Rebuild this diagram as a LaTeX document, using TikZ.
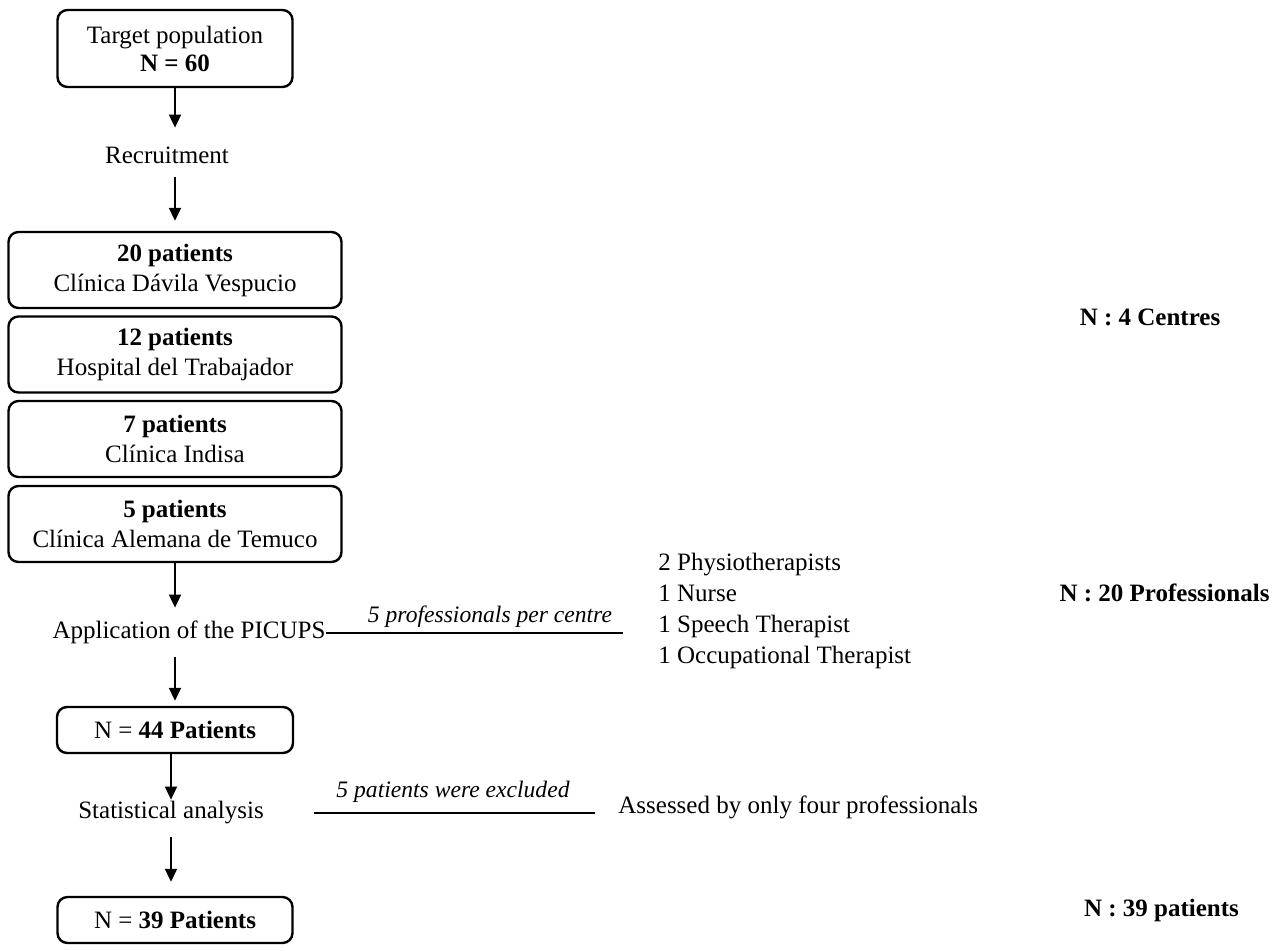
\documentclass[tikz,border=0pt]{standalone}
\usepackage{fontspec}
\setmainfont{Liberation Serif}
\usetikzlibrary{positioning,arrows.meta}
\tikzset{
  flowbox/.style={draw, line width=1.2pt, rounded corners=5pt, align=center, inner sep=0pt, font=\fontsize{12.5}{15}\selectfont},
  flowtext/.style={inner sep=0pt, font=\fontsize{12.5}{15}\selectfont},
  sidenote/.style={inner sep=0pt, font=\itshape\fontsize{11.8}{14}\selectfont},
  tally/.style={inner sep=0pt, font=\bfseries\fontsize{12.5}{15}\selectfont},
  flowarrow/.style={-{Triangle[length=6.5pt,width=6pt]}, line width=0.9pt},
  sideline/.style={line width=1pt}
}

\begin{document}
\begin{tikzpicture}[x=0.5pt,y=-0.5pt]
        \useasboundingbox (0,0) rectangle (1280,950);

        \node[flowbox, minimum width=117.5pt, minimum height=38.5pt, font=\fontsize{12.5}{14}\selectfont] (target) at (175,48.5) {Target population\\\textbf{N = 60}};

        \node[flowtext, minimum height=22pt] (recruit) at (167,155) {Recruitment};
        \draw[flowarrow, shorten >=2.5pt] (target.south) -- (target.south |- recruit.north);

        \node[flowbox, minimum width=166.5pt, minimum height=38pt] (davila) at (175,270) {\textbf{20 patients}\\Clínica Dávila Vespucio};
        \node[flowbox, minimum width=166.5pt, minimum height=38pt] (trabajador) at (175,354.5) {\textbf{12 patients}\\Hospital del Trabajador};
        \node[flowbox, minimum width=166.5pt, minimum height=38pt] (indisa) at (175,439) {\textbf{7 patients}\\Clínica Indisa};
        \node[flowbox, minimum width=166.5pt, minimum height=38pt] (temuco) at (175,524) {\textbf{5 patients}\\Clínica Alemana de Temuco};
        \draw[flowarrow, shorten >=5pt] (recruit.south -| davila.north) -- (davila.north);

        \node[flowtext, minimum height=24.5pt] (picups) at (189,632.5) {Application of the PICUPS};
        \draw[flowarrow] (temuco.south) -- (temuco.south |- picups.north);

        \node[flowtext, align=left, anchor=west, font=\fontsize{12.5}{15.4}\selectfont] (staff) at (658,611) {2 Physiotherapists\\1 Nurse\\1 Speech Therapist\\1 Occupational Therapist};
        \coordinate (staffend) at (623,632.5);
        \draw[sideline] (picups.east) -- (staffend);
        \node[sidenote] (percentre) at (490,617) {5 professionals per centre};

        \node[flowbox, minimum width=118pt, minimum height=23pt] (n44) at (175,730) {N = \textbf{44 Patients}};
        \draw[flowarrow, shorten >=2.5pt] (picups.south -| n44.north) -- (n44.north);

        \node[flowtext, minimum height=13pt] (stat) at (171,813) {Statistical analysis};
        \draw[flowarrow] (n44.south -| stat.north) -- (stat.north);

        \node[flowtext, anchor=west] (fouronly) at (618,807) {Assessed by only four professionals};
        \draw[sideline, shorten <=25pt, shorten >=11.5pt] (stat.east) -- (stat.east -| fouronly.west);
        \node[sidenote] (excluded) at (453,792) {5 patients were excluded};

        \node[flowbox, minimum width=117.5pt, minimum height=23pt] (n39) at (175,920) {N = \textbf{39 Patients}};
        \draw[flowarrow, shorten <=5.5pt, shorten >=7pt] (stat.south) -- (stat.south |- n39.north);

        \node[tally] (centres) at (1150,317) {N : 4 Centres};
        \node[tally] (profs) at (1164.5,593) {N : 20 Professionals};
        \node[tally] (final) at (1161.5,910) {N : 39 patients};
\end{tikzpicture}
\end{document}
